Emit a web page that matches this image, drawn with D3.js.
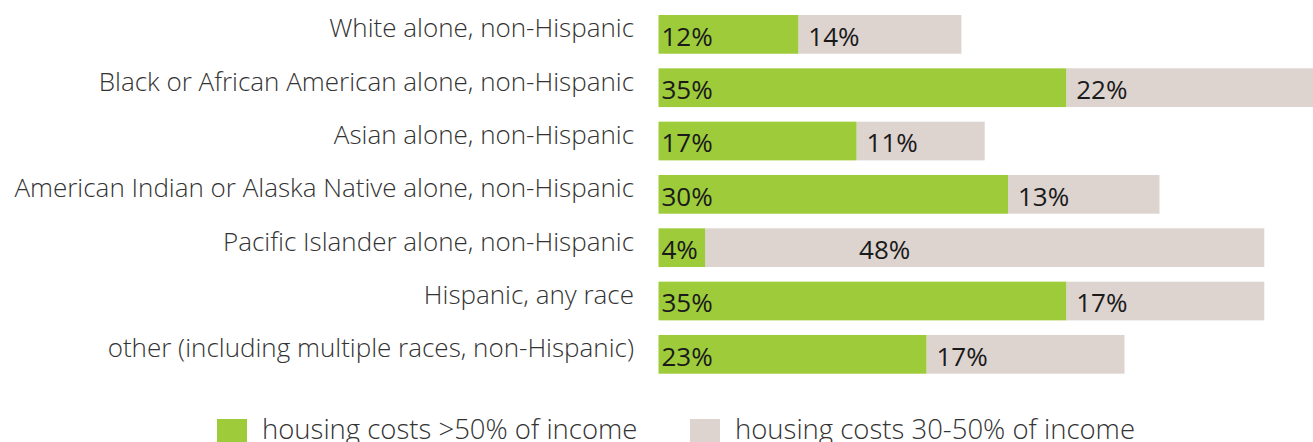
<!DOCTYPE html>
<html>
<head>
<meta charset="utf-8">
<script src="https://cdn.jsdelivr.net/npm/d3@7"></script>
<style>
  html, body { margin: 0; padding: 0; background: #fff; overflow: hidden; }
  svg { display: block; }
</style>
</head>
<body>
<div id="chart"></div>
<script>
// Chart data.
const categories = [
  "White alone, non-Hispanic",
  "Black or African American alone, non-Hispanic",
  "Asian alone, non-Hispanic",
  "American Indian or Alaska Native alone, non-Hispanic",
  "Pacific Islander alone, non-Hispanic",
  "Hispanic, any race",
  "other (including multiple races, non-Hispanic)"
];
const over50 = [12, 35, 17, 30, 4, 35, 23];
const from30to50 = [14, 22, 11, 13, 48, 17, 17];
const seriesNames = ["housing costs >50% of income", "housing costs 30-50% of income"];

const width = 1313, height = 442;
const green = "#9ecb3a", gray = "#ddd3cf";
const font = "'Open Sans', 'Noto Sans', sans-serif";

const svg = d3.select("#chart").append("svg")
  .attr("width", width)
  .attr("height", height);

// x: percent -> px (about 11.65 px per percent, starting at 658.5)
const x = d3.scaleLinear().domain([0, 60]).range([658.5, 658.5 + 60 * 11.65]);
const y = d3.scaleBand()
  .domain(categories)
  .range([7.7, 381])
  .paddingInner(0.274)
  .paddingOuter(0.137);

const rows = categories.map((c, i) => ({ cat: c, a: over50[i], b: from30to50[i] }));

const g = svg.append("g");

// Category labels
g.selectAll("text.cat")
  .data(rows)
  .join("text")
  .attr("class", "cat")
  .attr("x", 634)
  .attr("y", d => y(d.cat) + y.bandwidth() / 2 + 3)
  .attr("text-anchor", "end")
  .style("font-family", font)
  .style("font-weight", 300)
  .style("font-size", "26px")
  .attr("fill", "#333")
  .text(d => d.cat);

// Gray segment (30-50%)
g.selectAll("rect.b")
  .data(rows)
  .join("rect")
  .attr("class", "b")
  .attr("x", d => x(d.a))
  .attr("y", d => y(d.cat))
  .attr("width", d => x(d.a + d.b) - x(d.a))
  .attr("height", y.bandwidth())
  .attr("fill", gray);

// Green segment (>50%)
g.selectAll("rect.a")
  .data(rows)
  .join("rect")
  .attr("class", "a")
  .attr("x", x(0))
  .attr("y", d => y(d.cat))
  .attr("width", d => x(d.a) - x(0))
  .attr("height", y.bandwidth())
  .attr("fill", green);

// Value labels
const labelStyle = sel => sel
  .style("font-family", font)
  .style("font-size", "26px")
  .attr("fill", "#1a1a1a");

g.selectAll("text.va")
  .data(rows)
  .join("text")
  .attr("class", "va")
  .attr("x", x(0) + 3)
  .attr("y", d => y(d.cat) + y.bandwidth() - 8)
  .call(labelStyle)
  .text(d => d.a + "%");

g.selectAll("text.vb")
  .data(rows)
  .join("text")
  .attr("class", "vb")
  .attr("x", d => x(d.a) + (d.b > 40 ? 154 : 10))
  .attr("y", d => y(d.cat) + y.bandwidth() - 8)
  .call(labelStyle)
  .text(d => d.b + "%");

// Legend
const legend = svg.append("g");
const legendX = [217, 690];
seriesNames.forEach((name, i) => {
  legend.append("rect")
    .attr("x", legendX[i])
    .attr("y", 419)
    .attr("width", 30)
    .attr("height", 30)
    .attr("fill", i === 0 ? green : gray);
  legend.append("text")
    .attr("x", legendX[i] + 45)
    .attr("y", 439)
    .style("font-family", font)
    .style("font-weight", 300)
    .style("font-size", "27.5px")
    .attr("fill", "#333")
    .text(name);
});
</script>
</body>
</html>
